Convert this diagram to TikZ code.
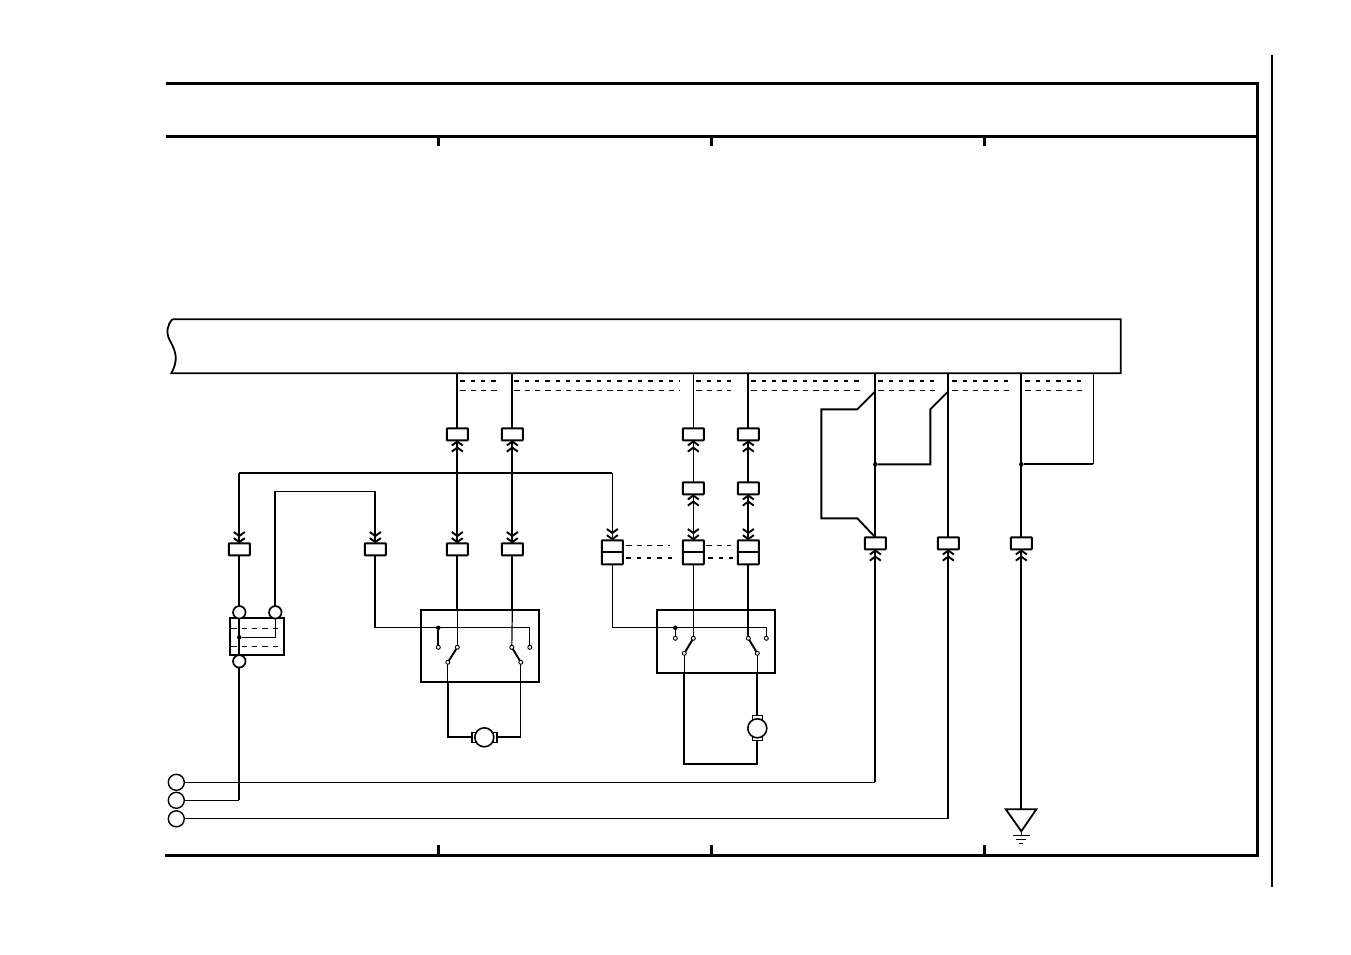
\documentclass[tikz,border=0pt]{standalone}
\usetikzlibrary{arrows.meta}
\tikzset{
  x=1pt,y=-1pt,
  frame/.style={line width=2.7pt,line cap=butt},
  tick/.style={line width=2.4pt},
  thk/.style={line width=2.2pt},
  med/.style={line width=1.9pt},
  thn/.style={line width=1.2pt},
  conn/.style={draw,line width=2pt,fill=white,rounded corners=0.6pt,minimum width=21pt,minimum height=12pt,inner sep=0pt,outer sep=0pt},
  dconn/.style={draw,line width=2pt,fill=white,rounded corners=0.6pt,minimum width=21pt,minimum height=24pt,inner sep=0pt,outer sep=0pt},
  term/.style={draw,circle,line width=1.7pt,fill=white,minimum size=12.5pt,inner sep=0pt,outer sep=0pt},
  extterm/.style={draw,circle,line width=1.4pt,fill=white,minimum size=16pt,inner sep=0pt,outer sep=0pt},
  contact/.style={draw,circle,line width=0.9pt,fill=white,minimum size=4pt,inner sep=0pt,outer sep=0pt},
  jdot/.style={fill=black,circle,minimum size=4.5pt,inner sep=0pt,outer sep=0pt},
  relay/.style={draw,line width=1.9pt,inner sep=0pt,outer sep=0pt},
  motorc/.style={draw,circle,line width=1.6pt,fill=white,minimum size=19pt,inner sep=0pt,outer sep=0pt},
  brush/.style={draw,line width=1.5pt,fill=white,inner sep=0pt,outer sep=0pt},
  dashA/.style={line width=2pt,dash pattern=on 4.3pt off 6pt},
  dashB/.style={line width=0.9pt,dash pattern=on 5.5pt off 4.8pt},
  chevs/.tip={Straight Barb[length=4pt,width=11pt,line width=1.9pt,sep=0pt]Straight Barb[length=4pt,width=11pt,line width=1.9pt]},
}
\begin{document}
\begin{tikzpicture}
\useasboundingbox (0,0) rectangle (1351,954);
\begin{scope}[shift={(0.3,0.3)}]
% frame
\coordinate (fa) at (166,83); \coordinate (fb) at (1257,83);
\coordinate (fc) at (166,136); \coordinate (fd) at (1257,136);
\coordinate (fe) at (166,855); \coordinate (ff) at (1257,855);
\draw[frame] (fa) -- (fb);
\draw[frame] (fc) -- (fd);
\draw[frame,line cap=rect] (fb) -- (ff) -- (fe);
\foreach \x in {438,711,984}{
  \draw[tick] (\x,136) -- (\x,146);
  \draw[tick] (\x,845) -- (\x,855);
}
\coordinate (ra) at (1272,55); \coordinate (rb) at (1272,887);
\draw[med] (ra) -- (rb);
% bus
\draw[line width=1.8pt,fill=white] (172,319) -- (1120.5,319) -- (1120.5,373) -- (171,373)
  .. controls (178,360) and (176,352) .. (170,341)
  .. controls (165,332) and (167,325) .. (172,319);
\foreach \n/\x in {a/457,b/512,c/693,d/748,e/875,f/948,g/1021,h/1093}
  \coordinate (bus\n) at (\x,373);
% bus dashes
\foreach \p/\q in {460/497,514/680,696/731,751/862,878/938,952/1012,1025/1083}{
  \draw[dashA] (\p,381) -- (\q,381);
  \draw[dashB] (\p,390) -- (\q,390);
}
% connectors
\node[conn] (u1) at (457,434) {};
\node[conn] (u2) at (512,434) {};
\node[conn] (u3) at (693,434) {};
\node[conn] (u4) at (748,434) {};
\node[conn] (m3) at (693,488) {};
\node[conn] (m4) at (748,488) {};
\node[conn] (l1) at (239,549) {};
\node[conn] (l2) at (375,549) {};
\node[conn] (l3) at (457,549) {};
\node[conn] (l4) at (512,549) {};
\node[dconn] (d1) at (612,552) {};
\node[dconn] (d2) at (693,552) {};
\node[dconn] (d3) at (748,552) {};
\node[conn] (r1) at (875,543) {};
\node[conn] (r2) at (948,543) {};
\node[conn] (r3) at (1021,543) {};
\draw[line width=2pt] (d1.west) -- (d1.east);
\draw[line width=2pt] (d2.west) -- (d2.east);
\draw[line width=2pt] (d3.west) -- (d3.east);
% dashes between double connectors
\draw[dashB] (626,545.5) -- (670,545.5);
\draw[dashA] (626,558) -- (673,558);
\draw[dashB] (706,545.5) -- (731,545.5);
\draw[dashA] (708,558) -- (733,558);
% bus drops
\draw[thk] (busa) -- (u1.north);
\draw[thk] (busb) -- (u2.north);
\draw[thn] (busc) -- (u3.north);
\draw[thk] (busd) -- (u4.north);
\draw[med] (buse) -- (r1.north);
\draw[med] (busf) -- (r2.north);
\draw[thk] (busg) -- (r3.north);
% links between connectors
\draw[thk,{chevs}-{chevs}] (u1.south) -- (l3.north);
\draw[thk,{chevs}-{chevs}] (u2.south) -- (l4.north);
\draw[thn,-{chevs}] (m3.north) -- (u3.south);
\draw[thk,-{chevs}] (m4.north) -- (u4.south);
\draw[thn,{chevs}-{chevs}] (m3.south) -- (d2.north);
\draw[thk,{chevs}-{chevs}] (m4.south) -- (d3.north);
% branches off the bus drops
\coordinate (e1) at (875,391); \coordinate (e2) at (857,409); \coordinate (e3) at (821,409);
\coordinate (e4) at (821,518); \coordinate (e5) at (857,518); \coordinate (e6) at (875,537);
\draw[med] (e1) -- (e2) -- (e3) -- (e4) -- (e5) -- (e6);
\node[jdot] (j1) at (875,464) {};
\coordinate (f1) at (930,464); \coordinate (f2) at (930,409); \coordinate (f3) at (948,391);
\draw[med] (j1) -- (f1) -- (f2) -- (f3);
\node[jdot] (j2) at (1021,464) {};
\coordinate (h1) at (1093,464);
\draw[thk] (j2) -- (h1);
\draw[thn] (h1) -- (bush);
% left wiring
\coordinate (t1) at (612,473); \coordinate (t2) at (239,473);
\draw[thk] (t1) -- (t2);
\draw[thk,-{chevs}] (t2) -- (l1.north);
\draw[thn,-{chevs}] (t1) -- (d1.north);
% block with terminals
\node[draw,line width=2pt,fill=white,minimum width=54pt,minimum height=37pt,inner sep=0pt,outer sep=0pt] (blk) at (257,636.5) {};
\draw[dashB] (231,628) -- (284,628);
\draw[dashB] (231,646) -- (284,646);
\node[term] (ta) at (239,612) {};
\node[term] (tb) at (275,612) {};
\node[term] (tc) at (239,661) {};
\draw[thk] (ta) -- (tc);
\draw[med] (l1.south) -- (ta);
\node[jdot] (j3) at (239,637) {};
\draw[thn] (tb.south) |- (j3);
\coordinate (t3) at (275,491); \coordinate (t4) at (375,491);
\draw[med] (tb.north) -- (t3);
\draw[thn] (t3) -- (t4);
\draw[med,-{chevs}] (t4) -- (l2.north);
% relay 1
\node[relay,minimum width=118pt,minimum height=72pt] (rl1) at (480,646) {};
\draw[line width=2.2pt] (rl1.south west) -- (rl1.south east);
\node[contact] (c1) at (438,647) {};
\node[contact] (c2) at (457,647) {};
\node[contact] (c3) at (447.5,662) {};
\node[contact] (c4) at (511.5,647) {};
\node[contact] (c5) at (529.5,647) {};
\node[contact] (c6) at (520.5,662) {};
\coordinate (k1) at (375,627.5); \coordinate (k2) at (529.5,627.5);
\draw[med] (l2.south) -- (k1);
\draw[thn] (k1) -- (k2) -- (c5);
\node[jdot] (j4) at (438,627.5) {};
\draw[thk] (j4) -- (c1);
\draw[thk] (l3.south) -- (rl1.north -| l3);
\draw[thn] (rl1.north -| l3) -- (c2);
\draw[thk] (l4.south) -- (rl1.north -| l4);
\draw[thn] (rl1.north -| l4) -- (c4);
\draw[med] (c2) -- (c3);
\draw[med] (c4) -- (c6);
% motor 1
\node[brush,minimum width=4pt,minimum height=10pt] (mb1) at (473.5,737) {};
\node[brush,minimum width=4pt,minimum height=10pt] (mb2) at (494.5,737) {};
\node[motorc] (m1) at (484,737) {};
\coordinate (n1) at (447.5,737); \coordinate (n2) at (520.5,737);
\draw[thn] (c3) -- (rl1.south -| c3);
\draw[thk] (rl1.south -| c3) -- (n1) -- (mb1);
\draw[thn] (c6) -- (n2);
\draw[thk] (n2) -- (mb2);
% relay 2
\node[relay,minimum width=118pt,minimum height=63pt] (rl2) at (716,641.5) {};
\draw[line width=2.2pt] (rl2.south west) -- (rl2.south east);
\node[contact] (c7) at (675,638) {};
\node[contact] (c8) at (693,638) {};
\node[contact] (c9) at (684,653) {};
\node[contact] (c10) at (748,638) {};
\node[contact] (c11) at (766,638) {};
\node[contact] (c12) at (757,653) {};
\coordinate (k3) at (612,627.5); \coordinate (k4) at (766,627.5);
\draw[thn] (d1.south) -- (k3) -- (k4) -- (c11);
\node[jdot] (j5) at (675,627.5) {};
\draw[thn] (j5) -- (c7);
\draw[thn] (d2.south) -- (c8);
\draw[thk] (d3.south) -- (c10);
\draw[med] (c8) -- (c9);
\draw[med] (c10) -- (c12);
% motor 2
\node[brush,minimum width=10pt,minimum height=4pt] (mb3) at (757,717) {};
\node[brush,minimum width=10pt,minimum height=4pt] (mb4) at (757,738) {};
\node[motorc] (m2) at (757,728) {};
\coordinate (n3) at (684,764); \coordinate (n4) at (757,764);
\draw[thn] (c9) -- (rl2.south -| c9);
\draw[thk] (rl2.south -| c9) -- (n3) -- (n4) -- (mb4);
\draw[thn] (c12) -- (rl2.south -| c12);
\draw[thk] (rl2.south -| c12) -- (mb3);
% external terminals
\node[extterm] (x1) at (176,782) {};
\node[extterm] (x2) at (176,800) {};
\node[extterm] (x3) at (176,818.5) {};
\coordinate (y1) at (875,782); \coordinate (y2) at (239,800); \coordinate (y3) at (948,818.5);
\draw[thn] (x1) -- (y1);
\draw[med,-{chevs}] (y1) -- (r1.south);
\draw[thn] (x2) -- (y2);
\draw[thk] (y2) -- (tc);
\draw[thn] (x3) -- (y3);
\draw[med,-{chevs}] (y3) -- (r2.south);
% ground
\coordinate (g0) at (1021,809); \coordinate (g1) at (1005.5,809); \coordinate (g2) at (1036,809); \coordinate (g3) at (1021,831);
\draw[thk,-{chevs}] (g0) -- (r3.south);
\draw[line width=1.8pt,line join=miter] (g1) -- (g2) -- (g3) -- cycle;
\draw[thn] (g3) -- (1021,835.5);
\draw[thn] (1012.5,835.5) -- (1029.5,835.5);
\draw[thn] (1016,839.5) -- (1026,839.5);
\draw[thn] (1019,843.5) -- (1023,843.5);
\end{scope}
\end{tikzpicture}
\end{document}
